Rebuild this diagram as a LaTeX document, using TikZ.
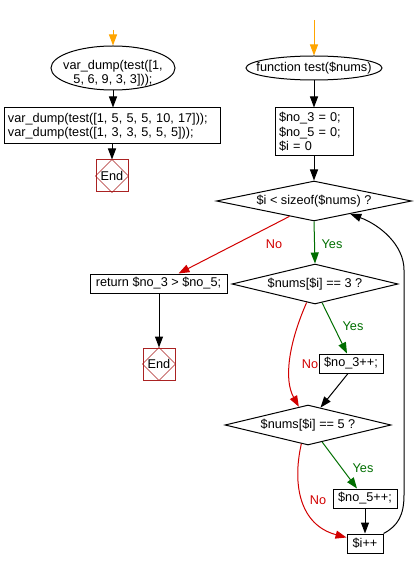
\documentclass[tikz,border=0pt]{standalone}
\usepackage{fontspec}
\setmainfont{Liberation Sans}
\usetikzlibrary{shapes.geometric,arrows.meta,calc}
\definecolor{endred}{RGB}{170,34,34}
\definecolor{yesgreen}{RGB}{0,110,0}
\definecolor{nored}{RGB}{210,0,0}
\definecolor{startorange}{RGB}{255,165,0}
\begin{document}
\begin{tikzpicture}[x=1pt,y=-1pt,
  font=\fontsize{12.7}{14.5}\selectfont,
  procbox/.style={draw,line width=1pt,inner sep=0pt,align=left},
  oval/.style={draw,ellipse,line width=1pt,inner sep=0pt},
  decision/.style={draw,diamond,line width=1pt,inner sep=0pt,aspect=4.5},
  txt/.style={inner sep=0pt,align=center},
  endbox/.style={draw=endred,line width=1pt,minimum width=32pt,minimum height=32pt,inner sep=0pt},
  flow/.style={line width=1pt,-{Triangle[length=11pt,width=8pt]}},
  yesarrow/.style={flow,yesgreen},
  noarrow/.style={flow,nored},
  startarrow/.style={flow,startorange},
  ylab/.style={text=yesgreen,inner sep=0pt},
  nlab/.style={text=nored,inner sep=0pt},
  enddiam/.style={endred,line width=0.6pt}]
\useasboundingbox (0,0) rectangle (414,569);

% ---------- left column ----------
\coordinate (o1) at (113,30);
\node[oval,minimum width=124pt,minimum height=44pt] (e1) at (113,68) {};
\node[txt] (e1t) at (113,73) {var\_dump(test([1,\\5, 6, 9, 3, 3]));};
\node[procbox,text width=208pt,inner xsep=4pt,minimum height=36pt] (r1) at (112,126)
  {var\_dump(test([1, 5, 5, 5, 10, 17]));\\var\_dump(test([1, 3, 3, 5, 5, 5]));};
\node[endbox] (end1) at (112,176) {End};
\draw[enddiam] (end1.north) -- (end1.east) -- (end1.south) -- (end1.west) -- cycle;

\draw[startarrow] (o1) -- (e1.north);
\draw[flow] (e1.south) -- (e1.south |- r1.north);
\draw[flow] (r1.south -| end1.north) -- (end1.north);

% ---------- right column ----------
\coordinate (o2) at (314,20);
\node[oval,minimum width=136pt,minimum height=24pt] (e2) at (314,68) {};
\node[txt] (e2t) at (314,68) {function test(\$nums)};
\node[procbox,text width=70pt,inner xsep=4pt,minimum height=48pt] (r2) at (314,132)
  {\$no\_3 = 0;\\\$no\_5 = 0;\\\$i = 0};
\node[decision,minimum width=195pt,minimum height=40pt] (d1) at (314,201) {};
\node[txt] (d1t) at (314,201) {\$i < sizeof(\$nums) ?};
\node[decision,minimum width=166pt,minimum height=40pt] (d2) at (315,284) {};
\node[txt] (d2t) at (315,284) {\$nums[\$i] == 3 ?};
\node[procbox,minimum width=137pt,minimum height=19pt,align=center] (ret) at (158.5,283.5) {return \$no\_3 > \$no\_5;};
\node[endbox] (end2) at (159,364) {End};
\draw[enddiam] (end2.north) -- (end2.east) -- (end2.south) -- (end2.west) -- cycle;
\node[procbox,minimum width=64pt,minimum height=19pt,align=center] (n3) at (351,363.5) {\$no\_3++;};
\node[decision,minimum width=166pt,minimum height=40pt] (d3) at (308,425) {};
\node[txt] (d3t) at (308,425) {\$nums[\$i] == 5 ?};
\node[procbox,minimum width=64pt,minimum height=19pt,align=center] (n5) at (365,498.5) {\$no\_5++;};
\node[procbox,minimum width=36pt,minimum height=19pt,align=center] (ii) at (365,543.5) {\$i++};

\draw[startarrow] (o2) -- (e2.north);
\draw[flow] (e2.south) -- (r2.north);
\draw[flow] (r2.south) -- (d1.north);

% d1 branches
\draw[yesarrow] (d1.south) -- (d2.north);
\node[ylab] (y1) at (332,244) {Yes};
\draw[noarrow] ($(d1.south)!0.25!(d1.west)$) -- ([xshift=20pt]ret.north);
\node[nlab] (n1) at (274,244) {No};
\draw[flow] (ret.south) -- (ret.south -| end2.north) -- (end2.north);

% d2 branches
\draw[yesarrow] ($(d2.south)!0.085!(d2.east)$) -- ([xshift=-4pt]n3.north);
\node[ylab] (y2) at (353,326) {Yes};
\draw[noarrow] ($(d2.south)!0.1!(d2.west)$) .. controls (288,345) and (284,380) .. ($(d3.north)!0.11!(d3.west)$);
\node[nlab] (nl2) at (310,364) {No};
\draw[flow] ([xshift=-3pt]n3.south) -- ($(d3.north)!0.15!(d3.east)$);

% d3 branches
\draw[yesarrow] ($(d3.south)!0.17!(d3.east)$) -- ([xshift=-8pt]n5.north);
\node[ylab] (y3) at (363,468) {Yes};
\draw[noarrow] ($(d3.south)!0.08!(d3.west)$) .. controls (292,485) and (300,525) .. ([yshift=6pt]ii.west);
\node[nlab] (nl3) at (318,500) {No};
\draw[flow] (n5.south) -- (ii.north);

% loop back
\draw[flow] (ii.north east) .. controls (398,526) and (404,515) .. (404,495)
  -- (404,270) .. controls (404,245) and (380,225) .. ($(d1.south)!0.37!(d1.east)$);
\end{tikzpicture}
\end{document}
